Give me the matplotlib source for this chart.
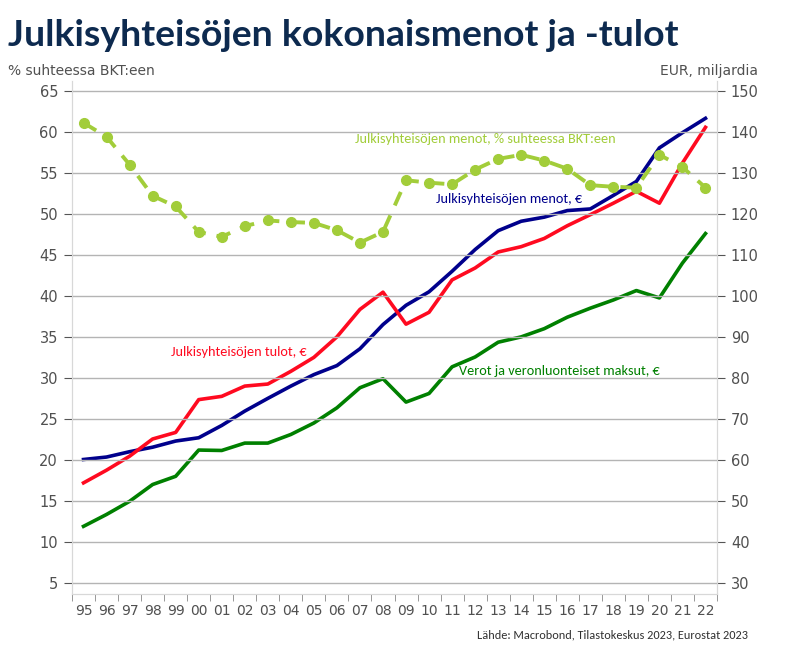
import numpy as np
import matplotlib.pyplot as plt
from matplotlib import font_manager
from matplotlib.ticker import FixedLocator

years = ['95', '96', '97', '98', '99', '00', '01', '02', '03', '04', '05', '06', '07', '08',
         '09', '10', '11', '12', '13', '14', '15', '16', '17', '18', '19', '20', '21', '22']
# menot, % suhteessa BKT:een (vasen akseli)
menot_pct = [61.1, 59.4, 56.0, 52.2, 50.9, 47.8, 47.2, 48.5, 49.2, 49.0, 48.9, 48.0, 46.5, 47.8,
             54.1, 53.8, 53.6, 55.4, 56.7, 57.2, 56.5, 55.5, 53.5, 53.3, 53.2, 57.2, 55.7, 53.2]
# mrd EUR (oikea akseli)
menot_eur = [60.1, 60.7, 62.0, 63.1, 64.6, 65.4, 68.4, 71.9, 75.0, 78.0, 80.8, 83.0, 87.1, 93.0,
             97.7, 101.0, 106.0, 111.3, 115.9, 118.2, 119.2, 120.8, 121.2, 124.5, 127.9, 136.1, 139.8, 143.3]
tulot_eur = [54.4, 57.5, 60.9, 65.1, 66.7, 74.7, 75.5, 78.0, 78.5, 81.6, 85.0, 90.0, 96.7, 100.9,
             93.1, 96.0, 103.9, 106.8, 110.7, 112.0, 114.0, 117.1, 119.8, 122.6, 125.5, 122.6, 132.4, 141.1]
verot_eur = [43.8, 46.7, 49.9, 54.0, 56.0, 62.4, 62.3, 64.1, 64.1, 66.2, 69.0, 72.7, 77.6, 79.8,
             74.1, 76.2, 82.7, 85.1, 88.7, 90.0, 92.0, 94.8, 97.0, 99.0, 101.3, 99.5, 108.0, 115.2]

c_light = '#a2cd3a'
c_navy = '#00008c'
c_red = '#ff0a20'
c_green = '#008000'
c_grey = '#505050'

# kapea fontti selitteille, jos sellainen löytyy
installed = {f.name for f in font_manager.fontManager.ttflist}
narrow = 'Liberation Sans'
lab_size = 9.3
for name in ['Carlito', 'Liberation Sans Narrow', 'DejaVu Sans Condensed', 'Roboto Condensed',
             'Open Sans Condensed', 'Noto Sans Display']:
    if name in installed:
        narrow = name
        lab_size = 10.3
        break

plt.rcParams['font.family'] = ['DejaVu Sans']
fig = plt.figure(figsize=(7.9, 6.59), dpi=100)
ax = fig.add_axes([72 / 790, 65 / 659, 645 / 790, 513 / 659])
ax2 = ax.twinx()

x = np.arange(len(years))
ax2.plot(x, menot_eur, color=c_navy, lw=2.6, zorder=3)
ax2.plot(x, tulot_eur, color=c_red, lw=2.6, zorder=3)
ax2.plot(x, verot_eur, color=c_green, lw=2.6, zorder=3)
ax.plot(x, menot_pct, color=c_light, lw=2.8, ls=(0, (3.8, 2.8)), marker='o', ms=7, zorder=2)
ax.set_zorder(ax2.get_zorder() + 1)
ax.patch.set_visible(False)

ax.set_xlim(-0.5, len(years) - 0.5)
ax.set_ylim(3.65, 66.2)
ax2.set_ylim(2 * 3.65 + 20, 2 * 66.2 + 20)
ax.set_yticks(range(5, 66, 5))
ax2.set_yticks(range(30, 151, 10))
ax.set_xticks(x)
ax.set_xticklabels(years)
ax.xaxis.set_minor_locator(FixedLocator(np.arange(-0.5, len(years), 1)))
ax.tick_params(axis='x', which='major', length=0, pad=7, labelsize=10, colors=c_grey)
ax.tick_params(axis='x', which='minor', length=5, color='#888888')
ax.tick_params(axis='y', length=6, color='#555555', labelsize=10.5, labelcolor=c_grey, pad=4)
ax2.tick_params(axis='y', length=6, color='#555555', labelsize=10.5, labelcolor=c_grey, pad=4)
ax.grid(axis='y', color='#b4b4b4', lw=1)
for a in (ax, ax2):
    a.spines['top'].set_visible(False)
    for s in ('left', 'right', 'bottom'):
        a.spines[s].set_color('#d8d8d8')

fam = [narrow, 'DejaVu Sans']
ax.text(17.46, 59.15, 'Julkisyhteisöjen menot, % suhteessa BKT:een', color=c_light, fontsize=lab_size,
        family=fam, va='center', ha='center')
ax.text(18.46, 51.8, 'Julkisyhteisöjen menot, €', color=c_navy, fontsize=lab_size,
        family=fam, va='center', ha='center')
ax.text(6.72, 33.2, 'Julkisyhteisöjen tulot, €', color=c_red, fontsize=lab_size,
        family=fam, va='center', ha='center')
ax.text(20.67, 30.85, 'Verot ja veronluonteiset maksut, €', color=c_green, fontsize=lab_size,
        family=fam, va='center', ha='center')

fig.text(8 / 790, 1 - 35 / 659, 'Julkisyhteisöjen kokonaismenot ja -tulot', color='#0d2a4f',
         fontsize=26.9, fontweight='bold', family=['Lato', 'DejaVu Sans'], va='center')
fig.text(8 / 790, 1 - 71 / 659, '% suhteessa BKT:een', color=c_grey, fontsize=10,
         family=['DejaVu Sans'], va='center')
fig.text(758 / 790, 1 - 71 / 659, 'EUR, miljardia', color=c_grey, fontsize=10,
         family=['DejaVu Sans'], va='center', ha='right')
fig.text(748 / 790, 1 - 635 / 659, 'Lähde: Macrobond, Tilastokeskus 2023, Eurostat 2023', color='#303030',
         fontsize=lab_size - 1.5, family=fam, va='center', ha='right')

fig.savefig('out.png', dpi=100)
